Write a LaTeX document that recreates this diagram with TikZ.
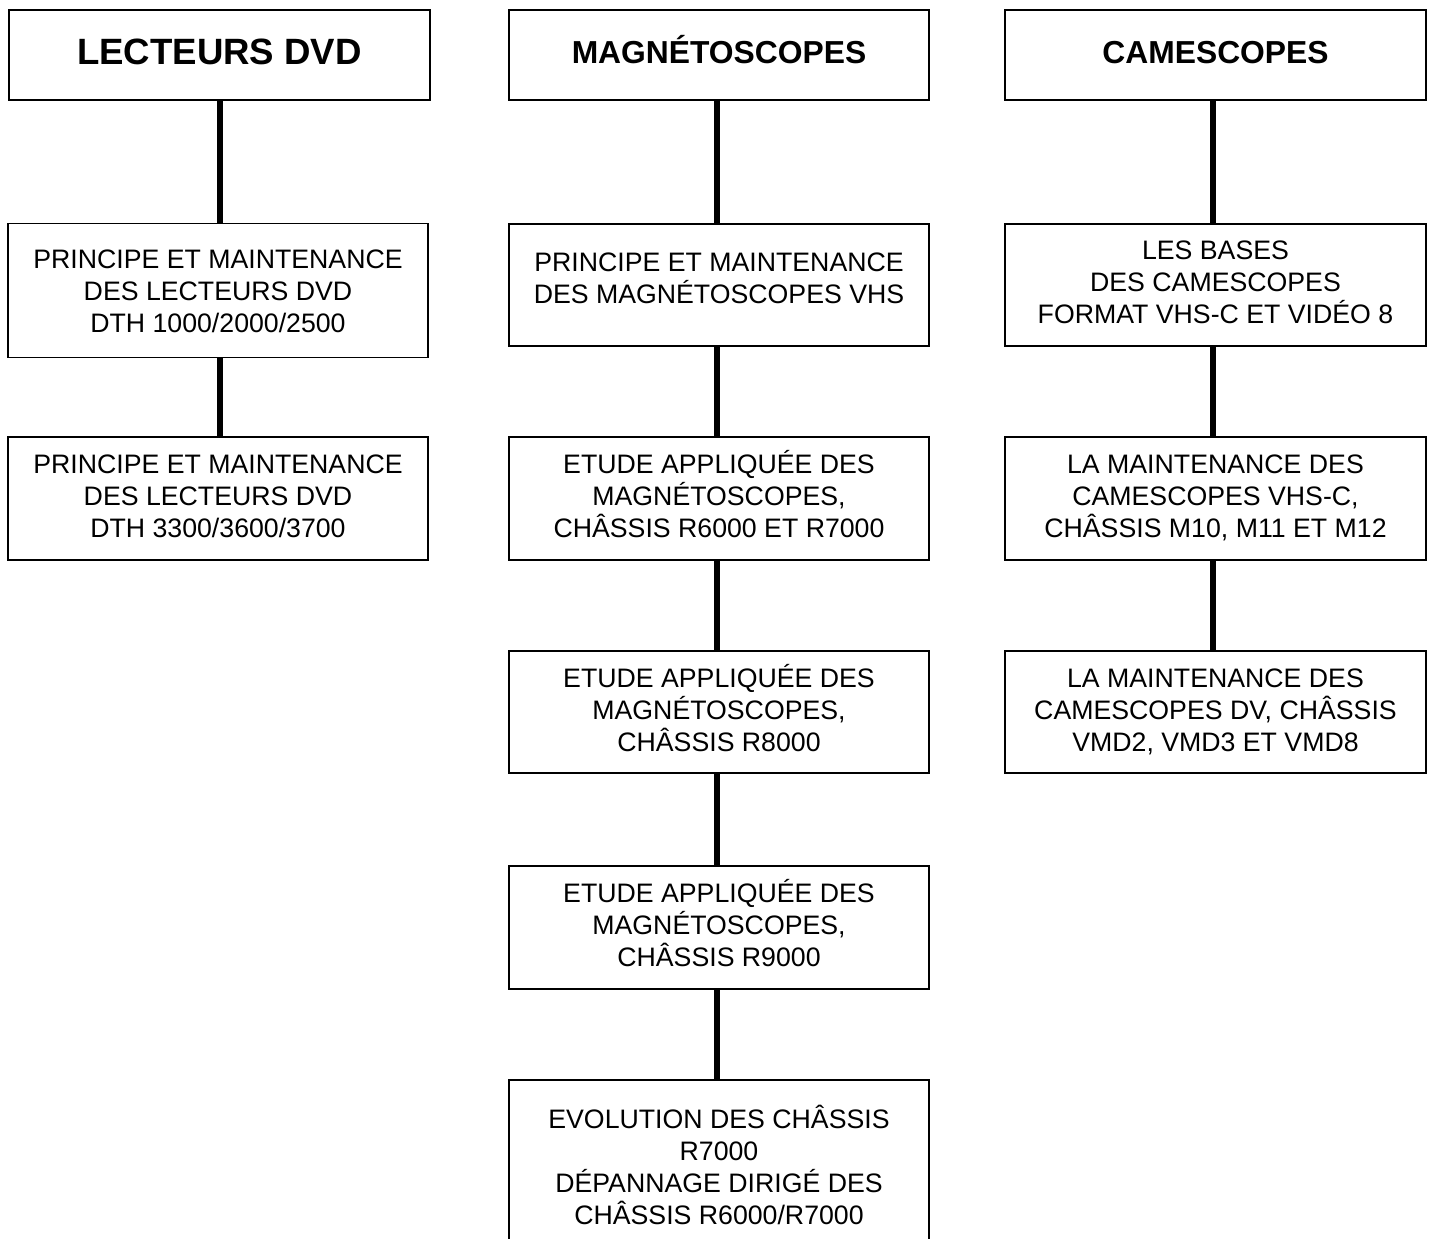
\documentclass[tikz,border=0pt]{standalone}
\usepackage{fontspec}
\setmainfont{Liberation Sans}
\newcommand\tstr[1]{\vrule height #1pt depth 0pt width 0pt}
\newcommand\bstr[1]{\vrule height 0pt depth #1pt width 0pt}
\begin{document}
\begin{tikzpicture}[x=1pt,y=-1pt,
  box/.style={draw=black, line width=1.5pt, fill=white, inner sep=0pt, align=center,
    font=\fontsize{26.7}{32}\selectfont},
  head/.style={draw=black, line width=1.5pt, fill=white, inner sep=0pt,
    font=\fontsize{31.8}{38}\selectfont\bfseries, text height=22.8pt, text depth=5pt},
  bighead/.style={head, font=\fontsize{36.6}{42}\selectfont\bfseries, text height=26.2pt, text depth=7pt},
  link/.style={line width=6pt, black}]
\clip (0,0) rectangle (1436,1239);
\fill[white] (0,0) rectangle (1436,1239);
% column 1
\node[bighead, minimum width=421pt, minimum height=90pt] (h1) at (219.5,55) {LECTEURS DVD};
\node[box, minimum width=420pt, minimum height=134pt] (b11) at (218,290.5) {\tstr{26}PRINCIPE ET MAINTENANCE\\DES LECTEURS DVD\\DTH 1000/2000/2500\bstr{6}};
\node[box, minimum width=420pt, minimum height=123pt] (b12) at (218,498.5) {\tstr{20}PRINCIPE ET MAINTENANCE\\DES LECTEURS DVD\\DTH 3300/3600/3700\bstr{6}};
% column 2
\node[head, minimum width=420pt, minimum height=90pt] (h2) at (719,55) {MAGNÉTOSCOPES};
\node[box, minimum width=420pt, minimum height=122pt] (b21) at (719,285) {\tstr{20}PRINCIPE ET MAINTENANCE\\DES MAGNÉTOSCOPES VHS\bstr{16}};
\node[box, minimum width=420pt, minimum height=123pt] (b22) at (719,498.5) {\tstr{26}ETUDE APPLIQUÉE DES\\MAGNÉTOSCOPES,\\ CHÂSSIS R6000 ET R7000\bstr{12}};
\node[box, minimum width=420pt, minimum height=122pt] (b23) at (719,712) {\tstr{26}ETUDE APPLIQUÉE DES\\MAGNÉTOSCOPES,\\ CHÂSSIS R8000\bstr{11}};
\node[box, minimum width=420pt, minimum height=123pt] (b24) at (719,927.5) {\tstr{26}ETUDE APPLIQUÉE DES\\MAGNÉTOSCOPES,\\ CHÂSSIS R9000\bstr{12}};
\node[box, minimum width=420pt, minimum height=174pt] (b25) at (719,1167) {\tstr{26}EVOLUTION DES CHÂSSIS\\R7000\\DÉPANNAGE DIRIGÉ DES\\CHÂSSIS R6000/R7000\bstr{7}};
% column 3
\node[head, minimum width=421pt, minimum height=90pt] (h3) at (1215.5,55) {CAMESCOPES};
\node[box, minimum width=421pt, minimum height=122pt] (b31) at (1215.5,285) {\tstr{20}LES BASES\\DES CAMESCOPES\\FORMAT VHS-C ET VIDÉO 8\bstr{7.3}};
\node[box, minimum width=421pt, minimum height=123pt] (b32) at (1215.5,498.5) {\tstr{20}LA MAINTENANCE DES\\CAMESCOPES VHS-C,\\CHÂSSIS M10, M11 ET M12\bstr{6}};
\node[box, minimum width=421pt, minimum height=122pt] (b33) at (1215.5,712) {\tstr{21}LA MAINTENANCE DES\\CAMESCOPES DV, CHÂSSIS\\VMD2, VMD3 ET VMD8\bstr{6}};
% connectors
\draw[link] ([xshift=0.5pt]h1.south) -- ([xshift=2pt]b11.north);
\draw[link] ([xshift=2pt]b11.south) -- ([xshift=2pt]b12.north);
\draw[link] ([xshift=-2.5pt]h2.south) -- ([xshift=-2.5pt]b21.north);
\draw[link] ([xshift=-2.5pt]b21.south) -- ([xshift=-2.5pt]b22.north);
\draw[link] ([xshift=-2.5pt]b22.south) -- ([xshift=-2.5pt]b23.north);
\draw[link] ([xshift=-2.5pt]b23.south) -- ([xshift=-2.5pt]b24.north);
\draw[link] ([xshift=-2.5pt]b24.south) -- ([xshift=-2.5pt]b25.north);
\draw[link] ([xshift=-2.5pt]h3.south) -- ([xshift=-2.5pt]b31.north);
\draw[link] ([xshift=-2.5pt]b31.south) -- ([xshift=-2.5pt]b32.north);
\draw[link] ([xshift=-2.5pt]b32.south) -- ([xshift=-2.5pt]b33.north);
\end{tikzpicture}
\end{document}
